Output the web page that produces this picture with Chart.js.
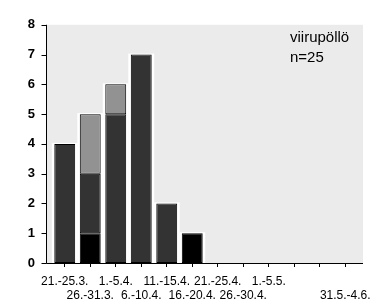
<!DOCTYPE html>
<html>
<head>
<meta charset="utf-8">
<script src="https://cdn.jsdelivr.net/npm/chart.js@4"></script>
<style>
html,body{margin:0;padding:0;background:#fff;}
#wrap{width:389px;height:301px;position:relative;}
</style>
</head>
<body>
<div id="wrap"><canvas id="c" width="389" height="301"></canvas></div>
<script>
const categories = ['21.-25.3.','26.-31.3.','1.-5.4.','6.-10.4.','11.-15.4.','16.-20.4.','21.-25.4.','26.-30.4.','1.-5.5.','','','31.5.-4.6.'];
const blackValues = [0,1,0,0,0,1,0,0,0,0,0,0];
const darkValues  = [4,2,5,7,2,0,0,0,0,0,0,0];
const lightValues = [0,2,1,0,0,0,0,0,0,0,0,0];
const yTicks = [0,1,2,3,4,5,6,7,8];
const titleLines = ['viirupöllö','n=25'];

const FONT = "'Liberation Sans', Arial, sans-serif";
const AXIS_X = 46.5;   // y-axis line position
const PLOT_RIGHT = 363; // right end of plot background / x-axis line

const labels = categories.map((c,i)=> i%2===0 ? [c] : ['', c]);

const bgPlugin = {
  id:'bg',
  beforeDraw(chart){
    const {ctx, chartArea:a} = chart;
    ctx.save();
    ctx.fillStyle = '#ebebeb';
    ctx.fillRect(AXIS_X, a.top, PLOT_RIGHT - AXIS_X, a.bottom - a.top);
    ctx.restore();
  },
  beforeDatasetsDraw(chart){
    const {ctx} = chart;
    const n = categories.length;
    ctx.save();
    ctx.fillStyle = '#ffffff';
    for(let i=0;i<n;i++){
      let top = Infinity, bottom = -Infinity, l=null, r=null;
      chart.data.datasets.forEach((ds,di)=>{
        if(!ds.data[i]) return;
        const el = chart.getDatasetMeta(di).data[i];
        const p = el.getProps(['x','y','base','width'], true);
        top = Math.min(top, p.y); bottom = Math.max(bottom, p.base);
        l = p.x - p.width/2; r = p.x + p.width/2;
      });
      if(l!==null){
        ctx.fillRect(l-2.5, top-1, (r-l)+5, bottom-top+1);
      }
    }
    ctx.restore();
  },
  afterDraw(chart){
    const {ctx, chartArea:a, scales} = chart;
    ctx.save();
    ctx.strokeStyle = '#000';
    ctx.lineWidth = 1;
    ctx.beginPath();
    ctx.moveTo(AXIS_X, a.top);
    ctx.lineTo(AXIS_X, a.bottom+0.5);
    ctx.lineTo(PLOT_RIGHT, a.bottom+0.5);
    yTicks.forEach(v=>{
      const y = Math.round(scales.y.getPixelForValue(v))+0.5;
      ctx.moveTo(AXIS_X-5, y);
      ctx.lineTo(AXIS_X, y);
    });
    ctx.stroke();
    ctx.fillStyle = '#000';
    ctx.font = "15px " + FONT;
    ctx.textBaseline = 'middle';
    ctx.fillText(titleLines[0], 290, 38);
    ctx.fillText(titleLines[1], 290, 58);
    ctx.restore();
  }
};

const common = {borderColor:'#000', borderWidth:1, borderSkipped:false, barPercentage:0.82, categoryPercentage:1.0, stack:'s'};

new Chart(document.getElementById('c'), {
  type:'bar',
  data:{
    labels: labels,
    datasets:[
      Object.assign({label:'a', data:blackValues, backgroundColor:'#000000'}, common),
      Object.assign({label:'b', data:darkValues, backgroundColor:'#333333'}, common),
      Object.assign({label:'c', data:lightValues, backgroundColor:'#929292'}, common)
    ]
  },
  options:{
    responsive:false,
    animation:false,
    devicePixelRatio:1,
    layout:{padding:{left:0, right:31, top:15, bottom:0}},
    plugins:{legend:{display:false}, tooltip:{enabled:false}},
    scales:{
      x:{
        stacked:true,
        offset:true,
        border:{display:false},
        grid:{display:true, drawOnChartArea:false, drawTicks:true, tickLength:4, color:'#000', offset:false},
        ticks:{autoSkip:false, maxRotation:0, minRotation:0, color:'#000', padding:7, font:{family:FONT, size:12}},
        afterFit(s){ s.height = 38; }
      },
      y:{
        stacked:true,
        min:0, max:8,
        border:{display:false},
        afterBuildTicks(s){ s.ticks = yTicks.map(v=>({value:v})); },
        grid:{display:false, drawTicks:false, tickLength:0},
        ticks:{color:'#000', padding:17, font:{family:FONT, size:13, weight:'bold'}},
        afterFit(s){ s.width = 52; }
      }
    }
  },
  plugins:[bgPlugin]
});
</script>
</body>
</html>
